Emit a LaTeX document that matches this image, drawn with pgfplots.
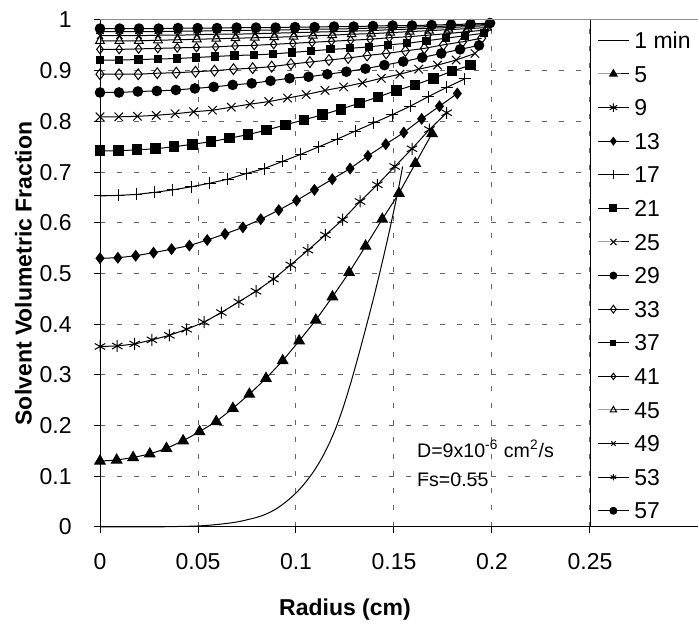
\documentclass[border=0pt]{standalone}
\usepackage{fontspec}
\setmainfont{Liberation Sans}
\usepackage{pgfplots}
\pgfplotsset{compat=1.18}

\newcommand{\tickfont}{\fontsize{11.5}{13.8}\selectfont}
\newcommand{\notefont}{\fontsize{9.8}{11.8}\selectfont}

\begin{document}
\begin{tikzpicture}
\useasboundingbox (0,0) rectangle (349pt,312.5pt);
\begin{axis}[
  at={(50pt,49pt)}, anchor=south west,
  scale only axis, width=245pt, height=253.5pt,
  xmin=0, xmax=0.25, ymin=0, ymax=1,
  xtick={0,0.05,0.1,0.15,0.2,0.25},
  ytick={0,0.1,0.2,0.3,0.4,0.5,0.6,0.7,0.8,0.9,1},
  scaled ticks=false,
  xticklabel style={/pgf/number format/fixed, /pgf/number format/precision=3, anchor=north, inner sep=0pt, yshift=-10pt},
  yticklabel style={/pgf/number format/fixed, anchor=east, inner sep=0pt, xshift=-11pt},
  /pgf/number format/assume math mode=true,
  tick label style={font=\tickfont},
  axis x line*=bottom, axis y line*=left,
  axis line style={-, black, line width=0.5pt},
  tick align=outside, major tick length=3pt,
  tick style={black, line width=0.5pt},
  grid=major,
  major grid style={dash pattern=on 2.5pt off 6pt, black!60, line width=0.5pt},
  xlabel={\bfseries Radius (cm)},
  ylabel={\bfseries Solvent Volumetric Fraction},
  label style={font=\tickfont},
  xlabel style={at={(axis description cs:0.5,-0.1736)}, anchor=base},
  ylabel style={at={(axis description cs:-0.1394,0.5)}, anchor=base},
  clip=false,
  every axis plot/.append style={black, line width=0.5pt},
  legend style={draw=none, fill=none, at={(1,1)}, anchor=north west,
    xshift=3.5pt, yshift=-1.6pt, font=\tickfont, row sep=0pt,
    inner sep=0pt, column sep=2.5pt, cells={anchor=west},
    nodes={inner sep=0pt, text height=12.5pt, text depth=4.3pt}},
  legend image code/.code={\draw[mark repeat=2,mark phase=2,#1] plot coordinates {(0pt,0pt) (7.75pt,0pt) (15.5pt,0pt)};},
  legend image post style={every mark/.append style={scale=0.72}},
]
% 1 min
\addplot[mark=none, smooth] coordinates {
(0,0) (0.01,0) (0.02,0) (0.03,0.0003) (0.04,0.001) (0.05,0.002) (0.06,0.005)
(0.07,0.010) (0.08,0.019) (0.085,0.026) (0.09,0.036) (0.095,0.050) (0.1,0.067)
(0.104,0.084) (0.108,0.104) (0.112,0.128) (0.116,0.157) (0.12,0.192) (0.124,0.235)
(0.128,0.285) (0.132,0.340) (0.136,0.398) (0.14,0.458) (0.144,0.522) (0.148,0.590)
(0.152,0.662) (0.1544,0.711)};
% 5
\addplot[mark=triangle*, mark size=3pt] coordinates {
(0,.130) (.0085,.132) (.0169,.137) (.0254,.144) (.0339,.155) (.0424,.170) (.0508,.188)
(.0593,.208) (.0678,.234) (.0762,.262) (.0847,.293) (.0932,.328) (.1016,.367) (.1101,.408)
(.1186,.454) (.1271,.502) (.1355,.554) (.1440,.607) (.1525,.658) (.1609,.717) (.1694,.776)};
% 9
\addplot[mark=asterisk, mark size=3pt] coordinates {
(0,.356) (.0088,.357) (.0177,.361) (.0265,.369) (.0354,.378) (.0442,.390) (.0531,.404)
(.0619,.423) (.0708,.444) (.0796,.465) (.0885,.489) (.0973,.517) (.1061,.546) (.1150,.576)
(.1238,.606) (.1327,.642) (.1415,.675) (.1504,.711) (.1592,.746) (.1681,.784) (.1769,.817)};
% 13
\addplot[mark=diamond*, mark size=2.6pt] coordinates {
(0,.530) (.0091,.531) (.0182,.535) (.0273,.541) (.0365,.548) (.0456,.555) (.0547,.566)
(.0638,.578) (.0729,.591) (.0820,.607) (.0912,.625) (.1003,.644) (.1094,.665) (.1185,.686)
(.1276,.707) (.1367,.732) (.1458,.755) (.1550,.778) (.1641,.805) (.1732,.830) (.1823,.855)};
% 17
\addplot[mark=+, mark size=3pt] coordinates {
(0,.653) (.0093,.654) (.0186,.656) (.0279,.660) (.0372,.665) (.0466,.671) (.0559,.678)
(.0652,.686) (.0745,.697) (.0838,.707) (.0931,.721) (.1024,.735) (.1117,.750) (.1210,.765)
(.1303,.781) (.1397,.797) (.1490,.813) (.1583,.830) (.1676,.849) (.1769,.867) (.1862,.884)};
% 21
\addplot[mark=square*, mark size=2.4pt] coordinates {
(0,.742) (.0095,.742) (.0189,.744) (.0284,.746) (.0378,.750) (.0473,.755) (.0567,.760)
(.0662,.767) (.0756,.774) (.0851,.783) (.0945,.793) (.1040,.803) (.1134,.813) (.1229,.824)
(.1323,.836) (.1418,.848) (.1512,.861) (.1607,.872) (.1701,.885) (.1796,.899) (.1890,.911)};
% 25
\addplot[mark=x, mark size=3pt] coordinates {
(0,.809) (.0096,.809) (.0191,.810) (.0287,.812) (.0383,.815) (.0478,.819) (.0574,.822)
(.0670,.828) (.0765,.834) (.0861,.839) (.0957,.846) (.1052,.853) (.1148,.861) (.1243,.868)
(.1339,.876) (.1435,.885) (.1530,.893) (.1626,.903) (.1722,.911) (.1817,.921) (.1913,.934)};
% 29
\addplot[mark=*, mark size=2.4pt] coordinates {
(0,.857) (.0097,.857) (.0193,.859) (.0290,.860) (.0387,.862) (.0484,.865) (.0580,.868)
(.0677,.872) (.0774,.875) (.0870,.880) (.0967,.885) (.1064,.888) (.1160,.893) (.1257,.898)
(.1354,.904) (.1451,.911) (.1547,.918) (.1644,.926) (.1741,.934) (.1837,.942) (.1934,.950)};
% 33
\addplot[mark=diamond, mark size=2.7pt, mark options={fill=white}] coordinates {
(0,.893) (.0097,.893) (.0195,.893) (.0292,.895) (.0389,.896) (.0487,.898) (.0584,.900)
(.0681,.903) (.0779,.905) (.0876,.908) (.0974,.913) (.1071,.917) (.1168,.921) (.1266,.925)
(.1363,.930) (.1460,.934) (.1558,.939) (.1655,.944) (.1752,.951) (.1850,.957) (.1947,.964)};
% 37
\addplot[mark=square*, mark size=1.8pt] coordinates {
(0,.921) (.0098,.921) (.0196,.922) (.0294,.923) (.0392,.924) (.0490,.926) (.0588,.928)
(.0686,.930) (.0784,.931) (.0882,.933) (.0980,.936) (.1078,.939) (.1176,.942) (.1274,.944)
(.1372,.947) (.1470,.951) (.1568,.954) (.1666,.959) (.1764,.964) (.1862,.969) (.1960,.974)};
% 41
\addplot[mark=diamond, mark size=2.2pt, mark options={fill=white}] coordinates {
(0,.942) (.0098,.942) (.0197,.943) (.0295,.944) (.0394,.945) (.0492,.946) (.0590,.947)
(.0689,.949) (.0787,.950) (.0886,.952) (.0984,.954) (.1082,.956) (.1181,.958) (.1279,.960)
(.1378,.962) (.1476,.965) (.1574,.967) (.1673,.970) (.1771,.973) (.1870,.977) (.1968,.980)};
% 45
\addplot[mark=triangle, mark size=2.5pt, mark options={fill=white}] coordinates {
(0,.959) (.0099,.959) (.0198,.959) (.0296,.960) (.0395,.961) (.0494,.962) (.0593,.963)
(.0691,.964) (.0790,.965) (.0889,.966) (.0988,.967) (.1086,.969) (.1185,.970) (.1284,.972)
(.1383,.973) (.1481,.975) (.1580,.977) (.1679,.979) (.1778,.981) (.1876,.983) (.1975,.985)};
% 49
\addplot[mark=x, mark size=2.2pt] coordinates {
(0,.969) (.0099,.969) (.0198,.969) (.0297,.970) (.0396,.970) (.0495,.971) (.0594,.972)
(.0693,.972) (.0792,.973) (.0891,.974) (.0990,.975) (.1089,.976) (.1188,.977) (.1287,.978)
(.1386,.979) (.1485,.981) (.1584,.982) (.1683,.984) (.1782,.985) (.1881,.987) (.1980,.989)};
% 53
\addplot[mark=asterisk, mark size=2.2pt] coordinates {
(0,.977) (.0099,.977) (.0199,.977) (.0298,.977) (.0397,.978) (.0496,.978) (.0596,.979)
(.0695,.979) (.0794,.980) (.0893,.980) (.0993,.981) (.1092,.982) (.1191,.982) (.1290,.983)
(.1390,.984) (.1489,.985) (.1588,.986) (.1687,.987) (.1787,.988) (.1886,.990) (.1985,.991)};
% 57
\addplot[mark=*, mark size=2.4pt] coordinates {
(0,.983) (.0100,.983) (.0199,.983) (.0299,.983) (.0398,.984) (.0498,.984) (.0597,.984)
(.0697,.985) (.0796,.985) (.0896,.985) (.0995,.986) (.1095,.986) (.1194,.987) (.1294,.987)
(.1393,.988) (.1493,.989) (.1592,.989) (.1692,.990) (.1791,.991) (.1891,.992) (.1990,.994)};
\legend{1 min,5,9,13,17,21,25,29,33,37,41,45,49,53,57}
\node[font=\notefont, anchor=base west, inner sep=0pt] at (axis cs:0.1616,0.138) {D=9x10\textsuperscript{-6} cm\textsuperscript{2}/s};
\node[font=\notefont, anchor=base west, inner sep=0pt] at (axis cs:0.1616,0.079) {Fs=0.55};
\end{axis}
\draw[black!45, line width=0.5pt] (50pt,302.5pt) -- (360pt,302.5pt);
\draw[black, line width=0.5pt] (50pt,49pt) -- (360pt,49pt);
\draw[black, line width=0.5pt] (295pt,49pt) -- (295pt,302.5pt);
\end{tikzpicture}
\end{document}
